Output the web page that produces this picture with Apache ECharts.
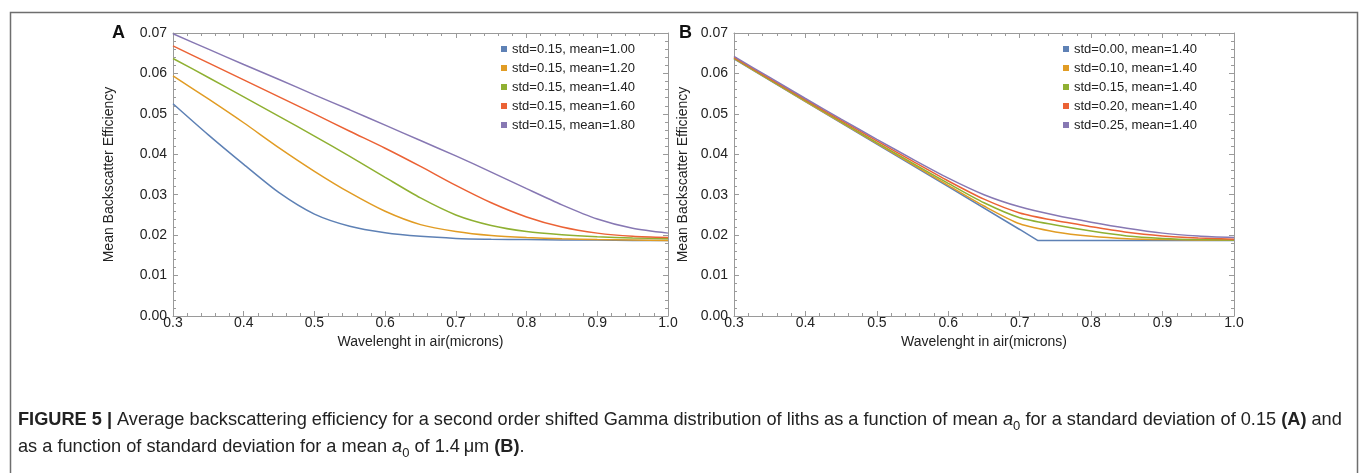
<!DOCTYPE html>
<html>
<head>
<meta charset="utf-8">
<script src="https://cdn.jsdelivr.net/npm/echarts@6/dist/echarts.min.js"></script>
<style>
  html, body { margin: 0; padding: 0; background: #fff; }
  #chart { width: 1360px; height: 473px; }
</style>
</head>
<body>
<div id="chart"></div>
<script>
// wavelengths (microns)
const wavelengths = [0.30, 0.35, 0.40, 0.45, 0.50, 0.55, 0.60, 0.65, 0.70, 0.75, 0.80, 0.85, 0.90, 0.95, 1.00];

// panel A: std = 0.15, varying mean
const namesA = ['std=0.15, mean=1.00', 'std=0.15, mean=1.20', 'std=0.15, mean=1.40', 'std=0.15, mean=1.60', 'std=0.15, mean=1.80'];
const mean100 = [0.0525, 0.0448, 0.0375, 0.0305, 0.0252, 0.0222, 0.0206, 0.0197, 0.0192, 0.0190, 0.0189, 0.0188, 0.0188, 0.0187, 0.0187];
const mean120 = [0.0594, 0.0537, 0.0478, 0.0416, 0.0358, 0.0305, 0.0259, 0.0226, 0.0209, 0.0199, 0.0194, 0.0191, 0.0189, 0.0188, 0.0187];
const mean140 = [0.0637, 0.0590, 0.0542, 0.0494, 0.0445, 0.0395, 0.0343, 0.0292, 0.0250, 0.0224, 0.0209, 0.0201, 0.0196, 0.0193, 0.0191];
const mean160 = [0.0668, 0.0626, 0.0584, 0.0542, 0.0500, 0.0457, 0.0415, 0.0370, 0.0323, 0.0280, 0.0245, 0.0220, 0.0205, 0.0197, 0.0194];
const mean180 = [0.0698, 0.0660, 0.0622, 0.0585, 0.0547, 0.0510, 0.0472, 0.0434, 0.0396, 0.0356, 0.0315, 0.0275, 0.0240, 0.0217, 0.0205];

// panel B: mean = 1.40, varying std
const namesB = ['std=0.00, mean=1.40', 'std=0.10, mean=1.40', 'std=0.15, mean=1.40', 'std=0.20, mean=1.40', 'std=0.25, mean=1.40'];
const std000x = [0.30, 0.40, 0.50, 0.60, 0.70, 0.725, 0.80, 0.90, 1.00];
const std000 = [0.0636, 0.0530, 0.0425, 0.0320, 0.0214, 0.0187, 0.0187, 0.0187, 0.0187];
const std010 = [0.0637, 0.0584, 0.0531, 0.0479, 0.0427, 0.0375, 0.0323, 0.0272, 0.0228, 0.0208, 0.0197, 0.0191, 0.0189, 0.0188, 0.0188];
const std015 = [0.0638, 0.0585, 0.0533, 0.0481, 0.0429, 0.0378, 0.0328, 0.0280, 0.0243, 0.0225, 0.0210, 0.0198, 0.0192, 0.0189, 0.0188];
const std020 = [0.0640, 0.0587, 0.0535, 0.0484, 0.0433, 0.0383, 0.0334, 0.0289, 0.0255, 0.0236, 0.0221, 0.0207, 0.0198, 0.0193, 0.0190];
const std025 = [0.0642, 0.0590, 0.0538, 0.0487, 0.0437, 0.0388, 0.0341, 0.0300, 0.0270, 0.0249, 0.0232, 0.0217, 0.0205, 0.0198, 0.0194];

const colors = ['#5e81b5', '#e19c24', '#8fb032', '#eb6235', '#8778b3'];
const font = 'Liberation Sans, Arial, sans-serif';
const frameColor = '#9a9a9a';
const textColor = '#222';

const pairs = (xs, ys) => ys.map((y, i) => [xs[i], y]);

const myChart = echarts.init(document.getElementById('chart'));

function xAxisFor(gridIndex, onTop) {
  return {
    type: 'value', gridIndex: gridIndex, min: 0.3, max: 1.0, interval: 0.1,
    position: onTop ? 'top' : 'bottom',
    name: onTop ? '' : 'Wavelenght in air(microns)',
    nameLocation: 'middle', nameGap: 18,
    nameTextStyle: { fontFamily: font, fontSize: 14, color: textColor },
    axisLine: { show: true, onZero: false, lineStyle: { color: frameColor, width: 1 } },
    axisTick: { show: true, inside: true, length: 5, lineStyle: { color: frameColor } },
    minorTick: { show: true, splitNumber: 5, length: 3, lineStyle: { color: frameColor } },
    axisLabel: {
      show: !onTop, fontFamily: font, fontSize: 14, color: textColor, margin: 0,
      formatter: v => v.toFixed(1)
    },
    splitLine: { show: false }
  };
}

function yAxisFor(gridIndex, onRight, gap) {
  return {
    type: 'value', gridIndex: gridIndex, min: 0, max: 0.07, interval: 0.01,
    position: onRight ? 'right' : 'left',
    name: onRight ? '' : 'Mean Backscatter Efficiency',
    nameLocation: 'middle', nameGap: gap,
    nameTextStyle: { fontFamily: font, fontSize: 14, color: textColor },
    axisLine: { show: true, onZero: false, lineStyle: { color: frameColor, width: 1 } },
    axisTick: { show: true, inside: true, length: 5, lineStyle: { color: frameColor } },
    minorTick: { show: true, splitNumber: 5, length: 3, lineStyle: { color: frameColor } },
    axisLabel: {
      show: !onRight, fontFamily: font, fontSize: 14, color: textColor, margin: 6,
      formatter: v => v.toFixed(2)
    },
    splitLine: { show: false }
  };
}

function lineSeries(name, data, idx, panel) {
  return {
    name: name, type: 'line', data: data,
    xAxisIndex: panel * 2, yAxisIndex: panel * 2,
    showSymbol: false, smooth: 0.25,
    lineStyle: { width: 1.5, color: colors[idx] },
    itemStyle: { color: colors[idx] },
    emphasis: { disabled: true },
    z: 3 + idx
  };
}

function legendFor(names, left) {
  return {
    data: names, orient: 'vertical', left: left, top: 37,
    itemWidth: 6, itemHeight: 6, itemGap: 5, icon: 'rect',
    textStyle: { fontFamily: font, fontSize: 13, color: textColor, lineHeight: 14 }
  };
}

const seriesA = [mean100, mean120, mean140, mean160, mean180]
  .map((ys, i) => lineSeries(namesA[i], pairs(wavelengths, ys), i, 0));
const seriesB = [
  lineSeries(namesB[0], pairs(std000x, std000), 0, 1),
  lineSeries(namesB[1], pairs(wavelengths, std010), 1, 1),
  lineSeries(namesB[2], pairs(wavelengths, std015), 2, 1),
  lineSeries(namesB[3], pairs(wavelengths, std020), 3, 1),
  lineSeries(namesB[4], pairs(wavelengths, std025), 4, 1)
];
seriesB[0].smooth = false;

const option = {
  animation: false,
  backgroundColor: '#fff',
  grid: [
    { left: 173, top: 33, width: 495, height: 283 },
    { left: 734, top: 33, width: 500, height: 283 }
  ],
  xAxis: [xAxisFor(0, false), xAxisFor(0, true), xAxisFor(1, false), xAxisFor(1, true)],
  yAxis: [yAxisFor(0, false, 57), yAxisFor(0, true, 0), yAxisFor(1, false, 44), yAxisFor(1, true, 0)],
  legend: [legendFor(namesA, 496), legendFor(namesB, 1058)],
  series: seriesA.concat(seriesB),
  graphic: [
    {
      type: 'rect', left: 8, top: 10, silent: true,
      shape: { width: 1347, height: 462 },
      style: { fill: 'none', stroke: '#6e6e6e', lineWidth: 1.5 }
    },
    {
      type: 'text', left: 112, top: 24,
      style: { text: 'A', fontFamily: font, fontSize: 18, fontWeight: 'bold', fill: '#111' }
    },
    {
      type: 'text', left: 679, top: 24,
      style: { text: 'B', fontFamily: font, fontSize: 18, fontWeight: 'bold', fill: '#111' }
    },
    {
      type: 'text', left: 18, top: 406,
      style: {
        text: '{b|FIGURE 5 |} Average backscattering efficiency for a second order shifted Gamma distribution of liths as a function of mean {i|a}{s|0} for a standard deviation of 0.15 {b|(A)} and\nas a function of standard deviation for a mean {i|a}{s|0} of 1.4\u2009\u03bcm {b|(B)}.',
        fontFamily: font, fontSize: 18.2, fill: '#222', lineHeight: 27,
        rich: {
          b: { fontFamily: font, fontSize: 18.2, fontWeight: 'bold', fill: '#222', lineHeight: 27 },
          i: { fontFamily: font, fontSize: 18.2, fontStyle: 'italic', fill: '#222', lineHeight: 27 },
          s: { fontFamily: font, fontSize: 13, fill: '#222', lineHeight: 27, verticalAlign: 'bottom' }
        }
      }
    }
  ]
};

myChart.setOption(option);
window.addEventListener('resize', () => myChart.resize());
</script>
</body>
</html>
